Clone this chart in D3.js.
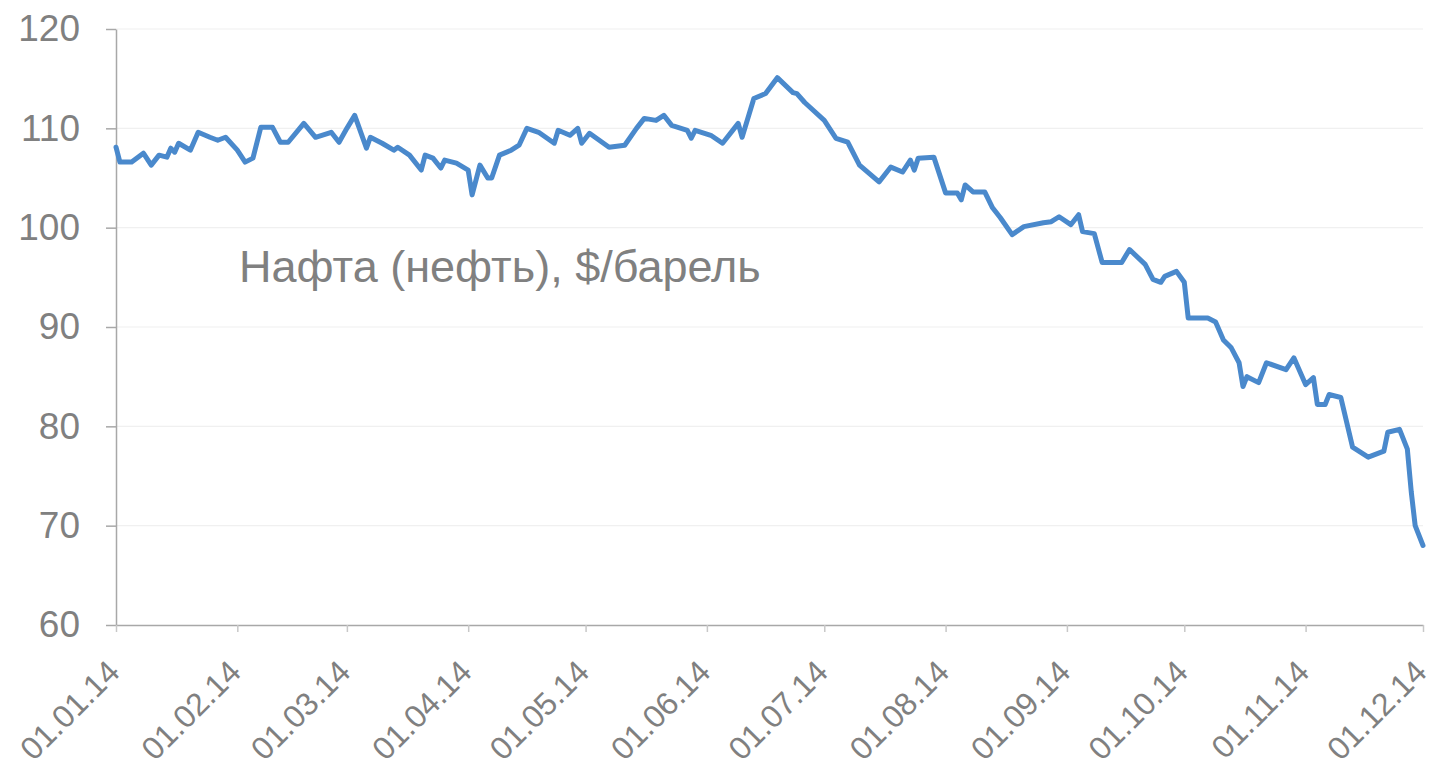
<!DOCTYPE html>
<html>
<head>
<meta charset="utf-8">
<script src="https://cdn.jsdelivr.net/npm/d3@7"></script>
<style>
  html, body { margin: 0; padding: 0; background: #ffffff; }
  svg { display: block; }
</style>
</head>
<body>
<svg id="chart" width="1435" height="770"></svg>
<script>
// ---- data ----
const dates = [
"2014-01-01","2014-01-02","2014-01-05","2014-01-08","2014-01-10","2014-01-12","2014-01-14","2014-01-15","2014-01-16","2014-01-17",
"2014-01-20","2014-01-22","2014-01-25","2014-01-27","2014-01-29","2014-02-01","2014-02-03","2014-02-05","2014-02-07","2014-02-10",
"2014-02-12","2014-02-14","2014-02-18","2014-02-21","2014-02-25","2014-02-27","2014-03-01","2014-03-03","2014-03-06","2014-03-07",
"2014-03-10","2014-03-13","2014-03-14","2014-03-17","2014-03-20","2014-03-21","2014-03-23","2014-03-25","2014-03-26","2014-03-29",
"2014-04-01","2014-04-02","2014-04-04","2014-04-06","2014-04-07","2014-04-09","2014-04-12","2014-04-14","2014-04-16","2014-04-19",
"2014-04-23","2014-04-24","2014-04-27","2014-04-29","2014-04-30","2014-05-02","2014-05-07","2014-05-11","2014-05-14","2014-05-16",
"2014-05-19","2014-05-21","2014-05-23","2014-05-27","2014-05-28","2014-05-29","2014-06-02","2014-06-05","2014-06-09","2014-06-10",
"2014-06-13","2014-06-16","2014-06-19","2014-06-23","2014-06-24","2014-06-26","2014-07-01","2014-07-04","2014-07-07","2014-07-10",
"2014-07-15","2014-07-18","2014-07-21","2014-07-23","2014-07-24","2014-07-25","2014-07-29","2014-08-01","2014-08-04","2014-08-05",
"2014-08-06","2014-08-08","2014-08-11","2014-08-13","2014-08-15","2014-08-18","2014-08-21","2014-08-26","2014-08-28","2014-08-30",
"2014-09-02","2014-09-04","2014-09-05","2014-09-08","2014-09-10","2014-09-15","2014-09-17","2014-09-21","2014-09-23","2014-09-25",
"2014-09-26","2014-09-29","2014-10-01","2014-10-02","2014-10-07","2014-10-09","2014-10-11","2014-10-13","2014-10-15","2014-10-16",
"2014-10-17","2014-10-20","2014-10-22","2014-10-27","2014-10-29","2014-11-01","2014-11-03","2014-11-04","2014-11-06","2014-11-07",
"2014-11-10","2014-11-13","2014-11-17","2014-11-21","2014-11-22","2014-11-25","2014-11-27","2014-11-28","2014-11-29","2014-12-01"
];
const oilPrice = [
108.1,106.6,106.6,107.5,106.3,107.3,107.1,108.0,107.6,108.5,
107.8,109.6,109.1,108.8,109.1,107.8,106.6,107.0,110.1,110.1,
108.6,108.6,110.5,109.1,109.6,108.6,110.0,111.3,108.0,109.1,
108.5,107.8,108.1,107.3,105.8,107.3,107.0,106.0,106.8,106.5,
105.8,103.3,106.3,105.0,105.0,107.3,107.8,108.3,110.0,109.6,
108.5,109.8,109.3,110.0,108.5,109.5,108.1,108.3,110.0,111.0,
110.8,111.3,110.3,109.8,109.0,109.8,109.3,108.5,110.5,109.1,
113.0,113.5,115.1,113.6,113.5,112.6,110.8,109.0,108.6,106.3,
104.6,106.1,105.6,106.8,105.8,107.0,107.1,103.5,103.5,102.8,
104.3,103.6,103.6,102.0,101.0,99.3,100.1,100.5,100.6,101.1,
100.3,101.3,99.6,99.4,96.5,96.5,97.8,96.3,94.8,94.5,
95.1,95.6,94.5,90.9,90.9,90.5,88.7,87.9,86.4,84.0,
85.0,84.4,86.4,85.7,86.9,84.2,84.9,82.2,82.2,83.2,
82.9,77.9,76.9,77.5,79.4,79.7,77.7,73.4,70.0,68.0
];
const xTickDates = ["2014-01-01","2014-02-01","2014-03-01","2014-04-01","2014-05-01","2014-06-01",
                    "2014-07-01","2014-08-01","2014-09-01","2014-10-01","2014-11-01","2014-12-01"];
const yTicks = [60, 70, 80, 90, 100, 110, 120];
const seriesLabel = "Нафта (нефть), $/барель";

// ---- layout ----
(function () {
  const parse = d3.utcParse("%Y-%m-%d");
  const fmt = d3.utcFormat("%d.%m.%y");
  const svg = d3.select("#chart");
  const mLeft = 116, mRight = 1423, mTop = 29, mBottom = 625;

  const x = d3.scaleUtc()
    .domain([parse(xTickDates[0]), parse(xTickDates[xTickDates.length - 1])])
    .range([mLeft, mRight]);
  const y = d3.scaleLinear().domain([60, 120]).range([mBottom, mTop]);

  const textColor = "#808080";
  const axisColor = "#a8a8a8";
  const font = "'Liberation Sans', Arial, sans-serif";

  // gridlines
  svg.append("g")
    .selectAll("line")
    .data(yTicks.filter(v => v > 60))
    .join("line")
    .attr("x1", mLeft).attr("x2", mRight)
    .attr("y1", d => y(d)).attr("y2", d => y(d))
    .attr("stroke", "#f0f0f0").attr("stroke-width", 1.2);

  // y axis
  const yAxis = svg.append("g")
    .attr("transform", `translate(${mLeft},0)`)
    .call(d3.axisLeft(y).tickValues(yTicks).tickSize(10).tickSizeOuter(0).tickPadding(26).tickFormat(d3.format("d")));
  yAxis.select(".domain").attr("stroke", axisColor).attr("stroke-width", 1.5);
  yAxis.selectAll(".tick line").attr("stroke", axisColor).attr("stroke-width", 1.5);
  yAxis.selectAll(".tick text")
    .attr("fill", textColor).attr("font-size", 37).attr("font-family", font);

  // x axis
  const xAxis = svg.append("g")
    .attr("transform", `translate(0,${mBottom})`)
    .call(d3.axisBottom(x).tickValues(xTickDates.map(parse)).tickSize(7).tickSizeOuter(0).tickFormat(fmt));
  xAxis.select(".domain").attr("stroke", axisColor).attr("stroke-width", 1.5);
  xAxis.selectAll(".tick line").attr("stroke", "#c8c8c8").attr("stroke-width", 1.5);
  xAxis.selectAll(".tick text")
    .attr("fill", textColor).attr("font-size", 32).attr("font-family", font)
    .attr("text-anchor", "end")
    .attr("dy", 0)
    .attr("y", 0)
    .attr("transform", "translate(5,49) rotate(-45)");

  // series line
  const data = dates.map((d, i) => ({ date: parse(d), value: oilPrice[i] }));
  svg.append("path")
    .datum(data)
    .attr("fill", "none")
    .attr("stroke", "#4a89cc")
    .attr("stroke-width", 5)
    .attr("stroke-linejoin", "round")
    .attr("stroke-linecap", "round")
    .attr("d", d3.line().x(d => x(d.date)).y(d => y(d.value)));

  // label
  svg.append("text")
    .attr("x", 239).attr("y", 282)
    .attr("fill", textColor)
    .attr("font-size", 45)
    .attr("font-family", font)
    .text(seriesLabel);
})();
</script>
</body>
</html>
